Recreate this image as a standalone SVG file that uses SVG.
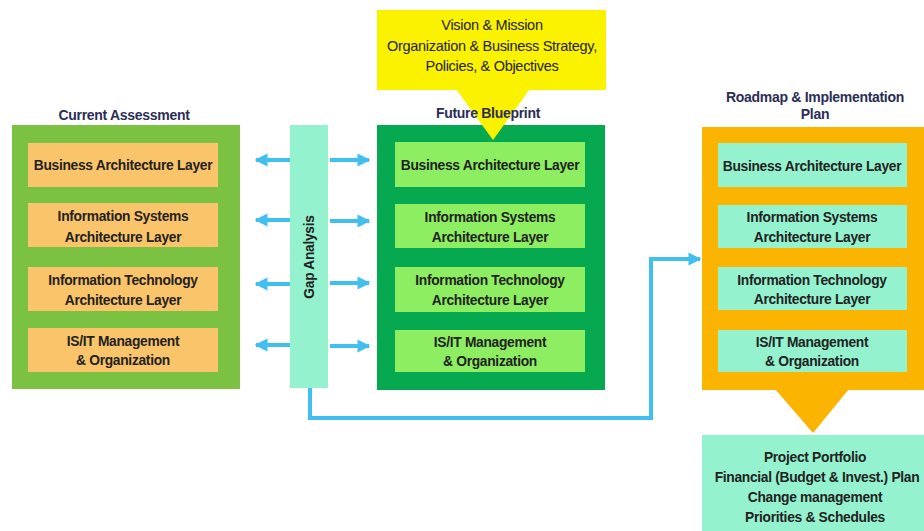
<svg xmlns="http://www.w3.org/2000/svg" width="924" height="531" viewBox="0 0 924 531">
<defs>
<style>
text{font-family:"Liberation Sans",Arial,sans-serif;font-weight:bold;fill:#222;text-anchor:middle;dominant-baseline:central}
.t{font-size:13.8px;letter-spacing:-0.3px}
.n{font-weight:normal;font-size:14.5px;letter-spacing:-0.3px}
.title{font-size:14px;fill:#2a2d55;letter-spacing:-0.3px}
.cur-in{fill:#fac46a}
.fut-in{fill:#8eee62}
.road-in{fill:#95f2cf}
.arr{stroke:#40bff0;stroke-width:4;fill:none}
</style>
<marker id="hd" viewBox="0 0 10 10" refX="9" refY="5" markerWidth="3.2" markerHeight="3.6" orient="auto" markerUnits="strokeWidth">
<path d="M0,0 L10,5 L0,10 z" fill="#40bff0"/>
</marker>
<marker id="hd2" viewBox="0 0 10 10" refX="9" refY="5" markerWidth="3.2" markerHeight="3.4" orient="auto" markerUnits="strokeWidth">
<path d="M0,0 L10,5 L0,10 z" fill="#40bff0"/>
</marker>
</defs>
<rect width="924" height="531" fill="#ffffff"/>

<g id="connectors">
<line class="arr" x1="290" y1="160" x2="256" y2="160" marker-end="url(#hd)"/>
<line class="arr" x1="290" y1="220" x2="256" y2="220" marker-end="url(#hd)"/>
<line class="arr" x1="290" y1="284" x2="256" y2="284" marker-end="url(#hd)"/>
<line class="arr" x1="290" y1="345" x2="256" y2="345" marker-end="url(#hd)"/>
<line class="arr" x1="330" y1="160" x2="369" y2="160" marker-end="url(#hd)"/>
<line class="arr" x1="330" y1="221" x2="369" y2="221" marker-end="url(#hd)"/>
<line class="arr" x1="330" y1="283" x2="369" y2="283" marker-end="url(#hd)"/>
<line class="arr" x1="330" y1="346" x2="369" y2="346" marker-end="url(#hd)"/>
<polyline class="arr" stroke-width="5" points="310,388 310,418 651,418 651,259 700,259" marker-end="url(#hd2)"/>
</g>

<g id="current-assessment">
<text class="title" x="124" y="115">Current Assessment</text>
<rect x="12" y="125" width="228" height="264" fill="#7cc242"/>
<rect class="cur-in" x="28" y="143" width="190" height="44"/>
<text class="t" x="123" y="165">Business Architecture Layer</text>
<rect class="cur-in" x="28" y="203" width="190" height="44"/>
<text class="t" x="123" y="216">Information Systems</text>
<text class="t" x="123" y="237">Architecture Layer</text>
<rect class="cur-in" x="28" y="267" width="190" height="44"/>
<text class="t" x="123" y="280">Information Technology</text>
<text class="t" x="123" y="300">Architecture Layer</text>
<rect class="cur-in" x="28" y="328" width="190" height="44"/>
<text class="t" x="123" y="341">IS/IT Management</text>
<text class="t" x="123" y="360">&amp; Organization</text>
</g>

<g id="gap-analysis">
<rect x="290" y="125" width="38" height="263" fill="#95f2cf"/>
<text class="t" transform="translate(309,257) rotate(-90)" x="0" y="0">Gap Analysis</text>
</g>

<g id="future-blueprint">
<rect x="377" y="125" width="228" height="265" fill="#06a850"/>
<rect class="fut-in" x="395" y="142" width="190" height="45"/>
<text class="t" x="490" y="165">Business Architecture Layer</text>
<rect class="fut-in" x="395" y="204" width="190" height="44"/>
<text class="t" x="490" y="217">Information Systems</text>
<text class="t" x="490" y="237">Architecture Layer</text>
<rect class="fut-in" x="395" y="267" width="190" height="45"/>
<text class="t" x="490" y="280">Information Technology</text>
<text class="t" x="490" y="300">Architecture Layer</text>
<rect class="fut-in" x="395" y="330" width="190" height="42"/>
<text class="t" x="490" y="342">IS/IT Management</text>
<text class="t" x="490" y="361">&amp; Organization</text>
</g>

<g id="vision-mission">
<rect x="377" y="10" width="229" height="80" fill="#fbf200"/>
<polygon points="456,89 530,89 493,140" fill="#fbf200"/>
<text class="n" x="492" y="25">Vision &amp; Mission</text>
<text class="n" x="492" y="46">Organization &amp; Business Strategy,</text>
<text class="n" x="492" y="66">Policies, &amp; Objectives</text>
<text class="title" x="488" y="113">Future Blueprint</text>
</g>

<g id="roadmap">
<text class="title" x="815" y="97">Roadmap &amp; Implementation</text>
<text class="title" x="815" y="114">Plan</text>
<rect x="702" y="127" width="222" height="263" fill="#fbb400"/>
<polygon points="775,389 849,389 813,433" fill="#fbb400"/>
<rect class="road-in" x="718" y="143" width="189" height="44"/>
<text class="t" x="812" y="166">Business Architecture Layer</text>
<rect class="road-in" x="718" y="205" width="189" height="43"/>
<text class="t" x="812" y="217">Information Systems</text>
<text class="t" x="812" y="237">Architecture Layer</text>
<rect class="road-in" x="718" y="267" width="189" height="43"/>
<text class="t" x="812" y="280">Information Technology</text>
<text class="t" x="812" y="299">Architecture Layer</text>
<rect class="road-in" x="718" y="330" width="189" height="42"/>
<text class="t" x="812" y="342">IS/IT Management</text>
<text class="t" x="812" y="361">&amp; Organization</text>
</g>

<g id="project-portfolio">
<rect x="702" y="435" width="222" height="96" fill="#95f2cf"/>
<text class="t" x="815" y="457">Project Portfolio</text>
<text class="t" x="817" y="477">Financial (Budget &amp; Invest.) Plan</text>
<text class="t" x="815" y="497">Change management</text>
<text class="t" x="815" y="517">Priorities &amp; Schedules</text>
</g>
</svg>
